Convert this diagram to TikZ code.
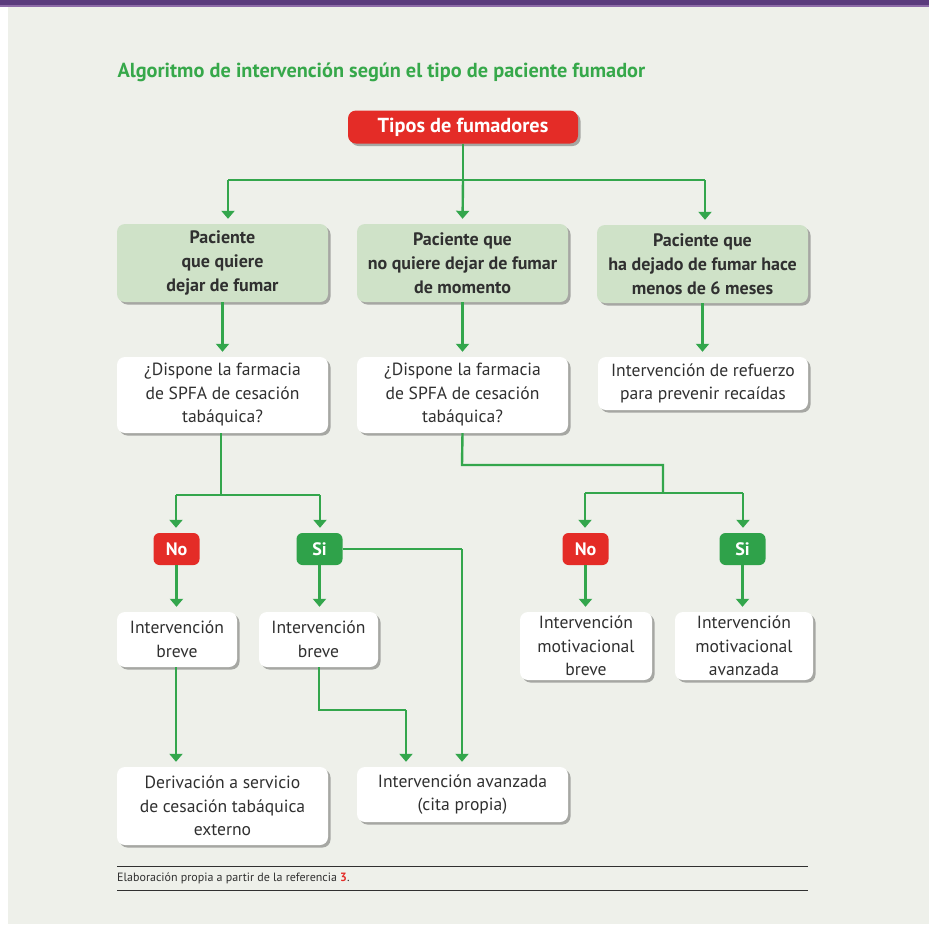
\documentclass[tikz,border=0pt]{standalone}
\usepackage{fontspec}
\setmainfont{PT Sans}
\usetikzlibrary{arrows.meta,shadows}
\definecolor{bgc}{HTML}{EEF0EA}
\definecolor{lgreen}{HTML}{33A64C}
\definecolor{boxgreen}{HTML}{CFE2C8}
\definecolor{redc}{HTML}{E42C27}
\definecolor{badgegreen}{HTML}{2FA24A}
\definecolor{titlegreen}{HTML}{36A84A}
\definecolor{txt}{HTML}{303030}
\definecolor{purp}{HTML}{5B3B7D}
\definecolor{purpl}{HTML}{8E6CA8}
\tikzset{
  shad/.style={drop shadow={shadow xshift=2.5pt,shadow yshift=-2.5pt,opacity=0.3,fill=black}},
  gbox/.style={shad,fill=boxgreen,rounded corners=8pt,minimum width=211pt,minimum height=78pt,align=center,text=txt,font=\fontsize{18}{24}\selectfont\bfseries,inner sep=0pt},
  wbox/.style={shad,fill=white,rounded corners=8pt,align=center,text=txt,font=\fontsize{17.6}{23.5}\selectfont,inner sep=0pt},
  rbox/.style={shad,fill=redc,rounded corners=8pt,minimum width=230pt,minimum height=33pt,text=white,font=\fontsize{20.3}{22}\selectfont\bfseries,inner sep=0pt},
  badge/.style={fill=#1,rounded corners=6pt,minimum width=46pt,minimum height=32pt,text=white,font=\fontsize{18}{20}\selectfont\bfseries,inner sep=0pt},
  conn/.style={draw=lgreen,line width=2.4pt},
  arr/.style={conn,-{Triangle[width=13pt,length=8pt]},shorten >=5pt},
}
\begin{document}
\begin{tikzpicture}[x=1pt,y=-1pt]
\useasboundingbox (0,0) rectangle (929,924);
\fill[white] (0,0) rectangle (929,924);
\fill[bgc] (8,0) rectangle (929,924);
\fill[purpl] (0,0) rectangle (929,7);
\fill[purp] (0,0) rectangle (929,5);

\node[anchor=west,text=titlegreen,font=\fontsize{20.3}{22}\selectfont\bfseries] (title) at (114,72) {Algoritmo de intervención según el tipo de paciente fumador};

\node[rbox] (tipos) at (463,127) {Tipos de fumadores};

\node[gbox] (p1) at (222.5,263) {Paciente\\que quiere\\dejar de fumar};
\node[gbox] (p2) at (462.5,263) {Paciente que\\no quiere dejar de fumar\\de momento};
\node[gbox] (p3) at (702.5,264) {Paciente que\\ha dejado de fumar hace\\menos de 6 meses};

\node[wbox,minimum width=211pt,minimum height=76pt] (q1) at (222.5,395) {¿Dispone la farmacia\\de SPFA de cesación\\tabáquica?};
\node[wbox,minimum width=211pt,minimum height=76pt] (q2) at (462.5,395) {¿Dispone la farmacia\\de SPFA de cesación\\tabáquica?};
\node[wbox,minimum width=210pt,minimum height=53pt] (r3) at (703,383.5) {Intervención de refuerzo\\para prevenir recaídas};

\node[badge=redc] (no1) at (176.5,549) {No};
\node[badge=badgegreen] (si1) at (319.5,549) {Si};
\node[badge=redc] (no2) at (585.5,549) {No};
\node[badge=badgegreen] (si2) at (742.5,549) {Si};

\node[wbox,minimum width=120pt,minimum height=55pt] (b1) at (177,639.5) {Intervención\\breve};
\node[wbox,minimum width=119pt,minimum height=55pt] (b2) at (318.5,639.5) {Intervención\\breve};
\node[wbox,minimum width=132pt,minimum height=68pt] (m1) at (586,646) {Intervención\\motivacional\\breve};
\node[wbox,minimum width=138pt,minimum height=68pt] (m2) at (744,646) {Intervención\\motivacional\\avanzada};

\node[wbox,minimum width=211pt,minimum height=78pt] (d1) at (222.5,806) {Derivación a servicio\\de cesación tabáquica\\externo};
\node[wbox,minimum width=211pt,minimum height=55pt] (av) at (462.5,794.5) {Intervención avanzada\\(cita propia)};

% junction coordinates
\coordinate (j0) at (463,180);
\coordinate (jl) at (228,180);
\coordinate (jr) at (705,180);
\coordinate (k1) at (221,495);
\coordinate (k1l) at (176,495);
\coordinate (k1r) at (320,495);
\coordinate (k2) at (462,465);
\coordinate (k2b) at (663,465);
\coordinate (k2c) at (663,493);
\coordinate (k2l) at (585,493);
\coordinate (k2r) at (743,493);
\coordinate (s1) at (462,549);
\coordinate (t1) at (319,710);
\coordinate (t2) at (406,710);

% connectors
\draw[conn] (tipos.south) -- (j0);
\draw[conn] (jl) -- (jr);
\draw[arr] (jl) -- (jl |- p1.north);
\draw[arr] (j0) -- (p2.north);
\draw[arr] (jr) -- (jr |- p3.north);

\draw[arr] (p1.south) -- (q1.north);
\draw[arr] (p2.south) -- (q2.north);
\draw[arr] (p3.south) -- (p3.south |- r3.north);

\draw[conn] (k1 |- q1.south) -- (k1);
\draw[conn] (k1l) -- (k1r);
\draw[arr] (k1l) -- (k1l |- no1.north);
\draw[arr] (k1r) -- (k1r |- si1.north);

\draw[conn] (q2.south) -- (k2) -- (k2b) -- (k2c);
\draw[conn] (k2l) -- (k2r);
\draw[arr] (k2l) -- (k2l |- no2.north);
\draw[arr] (k2r) -- (k2r |- si2.north);

\draw[arr] (no1.south) -- (no1.south |- b1.north);
\draw[arr] (si1.south) -- (si1.south |- b2.north);
\draw[arr] (no2.south) -- (no2.south |- m1.north);
\draw[arr] (si2.south) -- (si2.south |- m2.north);

\draw[conn] (si1.east) -- (s1);
\draw[arr] (s1) -- (s1 |- av.north);
\draw[arr] (b1.south -| k1l) -- (k1l |- d1.north);
\draw[conn] (t1 |- b2.south) -- (t1) -- (t2);
\draw[arr] (t2) -- (t2 |- av.north);

% footer
\coordinate (fl1) at (117,866);
\coordinate (fr1) at (808,866);
\coordinate (fl2) at (117,890);
\coordinate (fr2) at (808,890);
\draw[txt,line width=0.8pt] (fl1) -- (fr1);
\draw[txt,line width=0.8pt] (fl2) -- (fr2);
\node[anchor=west,text=txt,font=\fontsize{12}{14}\selectfont,inner sep=0pt] (foot) at (117,878) {Elaboración propia a partir de la referencia \textcolor{redc}{\bfseries 3}.};
\end{tikzpicture}
\end{document}
